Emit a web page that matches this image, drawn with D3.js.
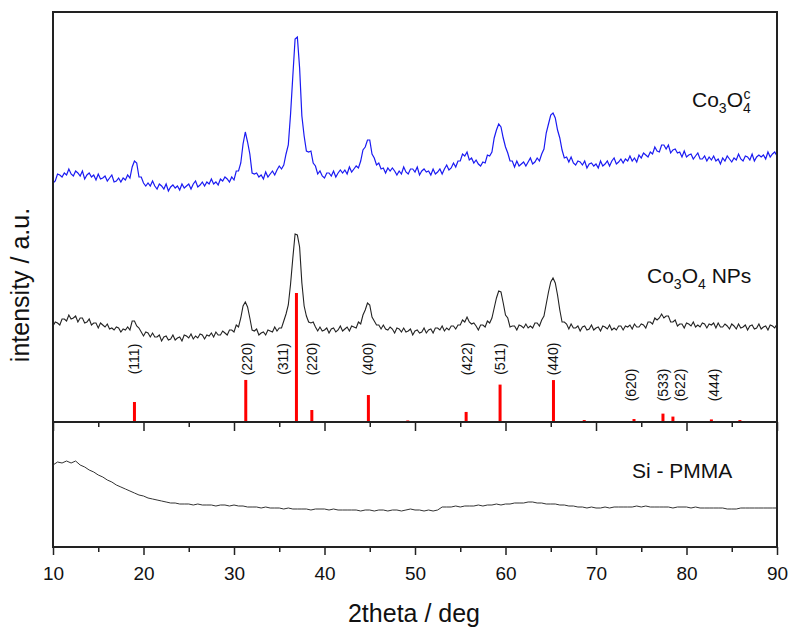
<!DOCTYPE html>
<html>
<head>
<meta charset="utf-8">
<script src="https://cdn.jsdelivr.net/npm/d3@7"></script>
<style>
body { margin: 0; background: #fff; }
text { font-family: Arial, "Liberation Sans", sans-serif; fill: #111; }
</style>
</head>
<body>
<div id="chart"></div>
<script>
// measured patterns, 2theta from 10 to 90
thetaStart = 10
thetaStep = 0.25

// Co3O4^c (blue), stacked intensity, one row per degree
co3o4c = [
  239, 241, 248, 247,  245, 249, 247, 253,  248, 246, 251, 249,  246, 251, 243, 247,
  249, 245, 247, 242,  248, 243, 244, 246,  241, 244, 247, 240,  241, 244, 240, 244,
  242, 247, 244, 255,  261, 259, 245, 245,  239, 236, 239, 236,  241, 236, 233, 238,
  236, 233, 238, 231,  235, 237, 234, 236,  232, 238, 234, 236,  238, 233, 238, 241,
  235, 237, 240, 236,  240, 238, 243, 238,  240, 237, 243, 241,  245, 243, 240, 245,
  242, 251, 251, 259,  278, 290, 280, 268,  249, 248, 249, 245,  247, 243, 250, 245,
  248, 251, 247, 252,  256, 253, 257, 268,  277, 308, 346, 383,  385, 354, 306, 286,
  271, 270, 271, 259,  256, 248, 251, 246,  244, 249, 249, 246,  251, 245, 249, 252,
  249, 252, 248, 255,  250, 253, 256, 254,  261, 272, 275, 282,  282, 268, 264, 257,
  259, 253, 254, 249,  254, 251, 254, 251,  247, 251, 248, 255,  250, 248, 253, 253,
  250, 255, 247, 251,  253, 250, 251, 247,  253, 248, 250, 253,  248, 253, 257, 252,
  254, 259, 255, 261,  261, 268, 266, 270,  262, 264, 259, 262,  258, 256, 260, 259,
  267, 266, 270, 284,  292, 298, 295, 284,  275, 269, 261, 261,  255, 261, 256, 258,
  260, 256, 260, 264,  258, 260, 264, 261,  268, 273, 289, 298,  307, 309, 304, 292,
  284, 272, 264, 265,  260, 265, 259, 257,  261, 260, 257, 261,  254, 258, 259, 256,
  258, 254, 261, 256,  258, 261, 256, 261,  264, 258, 260, 263,  259, 263, 261, 266,
  261, 264, 260, 267,  264, 269, 267, 265,  270, 268, 275, 271,  270, 277, 277, 273,
  277, 269, 272, 273,  269, 270, 265, 271,  265, 267, 268, 263,  266, 269, 263, 263,
  266, 261, 265, 262,  266, 261, 263, 258,  264, 261, 266, 263,  260, 264, 262, 268,
  263, 261, 266, 265,  262, 268, 261, 265,  267, 265, 267, 263,  270, 265, 268, 270,
  266
]

// Co3O4 NPs (black)
co3o4NPs = [
  96, 100, 99, 97,  103, 103, 101, 107,  103, 104, 106, 100,  104, 104, 99, 100,
  103, 97, 99, 99,  94, 99, 97, 95,  98, 93, 94, 92,  95, 94, 90, 93,
  92, 95, 92, 101,  101, 96, 94, 90,  86, 90, 89, 85,  89, 85, 85, 87,
  81, 85, 86, 82,  83, 87, 82, 84,  85, 81, 87, 86,  84, 88, 83, 86,
  84, 88, 87, 83,  87, 86, 89, 85,  90, 87, 87, 91,  89, 87, 92, 92,
  90, 97, 95, 104,  116, 120, 115, 104,  92, 91, 93, 87,  89, 90, 87, 92,
  91, 90, 95, 91,  94, 94, 101, 108,  117, 138, 164, 188,  187, 175, 139, 116,
  106, 100, 99, 100,  95, 91, 95, 91,  92, 94, 89, 93,  94, 90, 92, 96,
  91, 93, 95, 91,  96, 95, 94, 100,  98, 107, 112, 119,  117, 105, 101, 97,
  97, 93, 97, 93,  92, 95, 93, 89,  94, 93, 90, 94,  90, 91, 93, 87,
  91, 92, 89, 90,  94, 89, 92, 93,  89, 94, 94, 92,  96, 91, 94, 92,
  96, 96, 93, 97,  97, 102, 100, 105,  100, 98, 99, 96,  92, 97, 97, 95,
  101, 99, 104, 114,  124, 131, 130, 119,  107, 104, 95, 96,  96, 92, 97, 96,
  94, 98, 94, 96,  94, 99, 99, 96,  102, 106, 118, 130,  140, 144, 139, 127,
  112, 100, 100, 98,  93, 98, 94, 94,  96, 91, 95, 96,  92, 93, 97, 92,
  94, 95, 91, 96,  95, 93, 97, 92,  94, 92, 96, 96,  92, 96, 95, 97,
  93, 98, 95, 95,  98, 97, 94, 100,  100, 98, 104, 102,  104, 108, 104, 106,
  106, 100, 100, 102,  96, 98, 98, 94,  99, 98, 96, 100,  95, 97, 95, 99,
  98, 94, 98, 97,  99, 94, 99, 95,  95, 98, 96, 93,  98, 96, 93, 98,
  94, 95, 97, 92,  96, 97, 93, 94,  98, 93, 95, 96,  92, 97, 96, 94,
  98
]

// Si - PMMA substrate, half degree steps
siStep = 0.5
siPMMA = [
  82, 85, 84, 86, 84, 86, 82, 80, 77, 75, 72, 70, 67, 65, 62, 60, 58, 56, 54, 52,
  51, 49, 48, 47, 46, 45, 44, 44, 43, 43, 43, 42, 43, 42, 42, 42, 41, 42, 42, 41,
  42, 41, 41, 40, 40, 40, 39, 40, 39, 39, 39, 38, 39, 38, 38, 38, 38, 37, 38, 38,
  38, 37, 38, 37, 37, 37, 37, 37, 36, 37, 37, 36, 37, 37, 36, 37, 37, 36, 37, 38,
  37, 37, 36, 37, 36, 37, 40, 40, 40, 41, 40, 41, 41, 41, 42, 41, 42, 42, 43, 42,
  43, 43, 44, 44, 44, 45, 45, 44, 44, 43, 43, 43, 42, 42, 41, 41, 40, 40, 39, 40,
  39, 39, 40, 39, 40, 40, 40, 40, 40, 41, 40, 41, 40, 40, 40, 40, 40, 39, 40, 40,
  40, 39, 40, 39, 39, 39, 39, 39, 39, 38, 38, 38, 39, 39, 39, 39, 39, 39, 39, 39,
  39
]

// reference pattern sticks (relative intensity)
refTheta = [19.0, 31.3, 36.9, 38.6, 44.85, 49.2, 55.65, 59.4, 65.3, 68.7, 69.8, 74.2, 77.4, 78.5, 82.75, 85.9]
refIntensity = [15.5, 32.6, 100, 9.3, 20.9, 1.2, 7.8, 29, 32.5, 1.5, 0.8, 2.3, 6.5, 4.2, 2.0, 1.5]

hklLabels = ["(111)", "(220)", "(311)", "(220)", "(400)", "(422)", "(511)", "(440)", "(620)", "(533)", "(622)", "(444)"]
hklTheta = [19.0, 31.4, 35.4, 38.6, 44.8, 55.8, 59.4, 65.3, 73.9, 77.4, 79.3, 83.1]
hklRow = [1, 1, 1, 1, 1, 1, 1, 1, 2, 2, 2, 2]

xTicks = [10, 20, 30, 40, 50, 60, 70, 80, 90]
xMinorTicks = [15, 25, 35, 45, 55, 65, 75, 85]

width = 791
height = 628
plotLeft = 53
plotRight = 777
plotTop = 12
plotSplit = 422
plotBottom = 547

svg = d3.select("#chart").append("svg")
  .attr("width", width)
  .attr("height", height)

x = d3.scaleLinear().domain([10, 90]).range([plotLeft, plotRight])
yTop = d3.scaleLinear().domain([0, 410]).range([plotSplit, plotTop])
yRef = d3.scaleLinear().domain([0, 100]).range([plotSplit, 293])
yBottom = d3.scaleLinear().domain([0, 125]).range([plotBottom, plotSplit])

topLine = d3.line()
  .x(function(d, i) { return x(thetaStart + i * thetaStep) })
  .y(function(d) { return yTop(d) })

siLine = d3.line()
  .x(function(d, i) { return x(thetaStart + i * siStep) })
  .y(function(d) { return yBottom(d) })

svg.append("path").datum(co3o4c)
  .attr("d", topLine)
  .attr("fill", "none")
  .attr("stroke", "#1a1af2")
  .attr("stroke-width", 1.2)

svg.append("path").datum(co3o4NPs)
  .attr("d", topLine)
  .attr("fill", "none")
  .attr("stroke", "#222")
  .attr("stroke-width", 1.1)

svg.append("path").datum(siPMMA)
  .attr("d", siLine)
  .attr("fill", "none")
  .attr("stroke", "#333")
  .attr("stroke-width", 1)

// red reference sticks
svg.selectAll(".stick")
  .data(refTheta)
  .enter()
  .append("line")
  .attr("class", "stick")
  .attr("x1", function(d) { return x(d) })
  .attr("x2", function(d) { return x(d) })
  .attr("y1", yRef(0))
  .attr("y2", function(d, i) { return yRef(refIntensity[i]) })
  .attr("stroke", "#ff0000")
  .attr("stroke-width", 3)

rowY = { 1: 359, 2: 385 }
svg.selectAll(".hkl")
  .data(hklLabels)
  .enter()
  .append("text")
  .attr("class", "hkl")
  .attr("transform", function(d, i) {
    return "translate(" + x(hklTheta[i]) + "," + rowY[hklRow[i]] + ") rotate(-90)"
  })
  .attr("text-anchor", "middle")
  .attr("dy", "0.35em")
  .attr("font-size", 14)
  .text(function(d) { return d })

// frame and panel separator
svg.append("rect")
  .attr("x", plotLeft).attr("y", plotTop)
  .attr("width", plotRight - plotLeft).attr("height", plotBottom - plotTop)
  .attr("fill", "none")
  .attr("stroke", "#222")
  .attr("stroke-width", 2)

svg.append("line")
  .attr("x1", plotLeft).attr("x2", plotRight)
  .attr("y1", plotSplit).attr("y2", plotSplit)
  .attr("stroke", "#222")
  .attr("stroke-width", 2)

function drawTicks(y, major, minor, labels) {
  g = svg.append("g").attr("transform", "translate(0," + y + ")")
  g.call(d3.axisBottom(x).tickValues(xTicks).tickSize(major).tickPadding(12)
    .tickFormat(labels ? d3.format("d") : ""))
  g.append("g").call(d3.axisBottom(x).tickValues(xMinorTicks).tickSize(minor).tickFormat(""))
  g.selectAll(".domain").remove()
  g.selectAll("line").attr("stroke", "#222").attr("stroke-width", 1.5)
  g.selectAll("text").attr("font-size", 19).attr("fill", "#111")
    .style("font-family", "Arial, 'Liberation Sans', sans-serif")
}
drawTicks(plotSplit, 9, 5, false)
drawTicks(plotBottom, 8, 5, true)

// axis titles
svg.append("text")
  .attr("x", 414).attr("y", 622)
  .attr("text-anchor", "middle")
  .attr("font-size", 25)
  .text("2theta / deg")

svg.append("text")
  .attr("transform", "translate(29,285) rotate(-90)")
  .attr("text-anchor", "middle")
  .attr("font-size", 25)
  .text("intensity / a.u.")

// series labels
function formula(xPos, yPos, rest) {
  t = svg.append("text").attr("x", xPos).attr("y", yPos).attr("font-size", 21)
  t.append("tspan").text("Co")
  t.append("tspan").attr("font-size", 14).attr("dy", 6).text("3")
  t.append("tspan").attr("dy", -6).text("O")
  t.append("tspan").attr("font-size", 14).attr("dy", 6).text("4")
  if (rest) t.append("tspan").attr("dy", -6).text(rest)
  return t
}

c1 = formula(692, 107, null)
ext = c1.node().getExtentOfChar(4)
svg.append("text")
  .attr("x", ext.x + 0.5).attr("y", 99)
  .attr("font-size", 14)
  .text("c")

formula(647, 283, " NPs")

svg.append("text")
  .attr("x", 632).attr("y", 478)
  .attr("font-size", 21)
  .text("Si - PMMA")
</script>
</body>
</html>
